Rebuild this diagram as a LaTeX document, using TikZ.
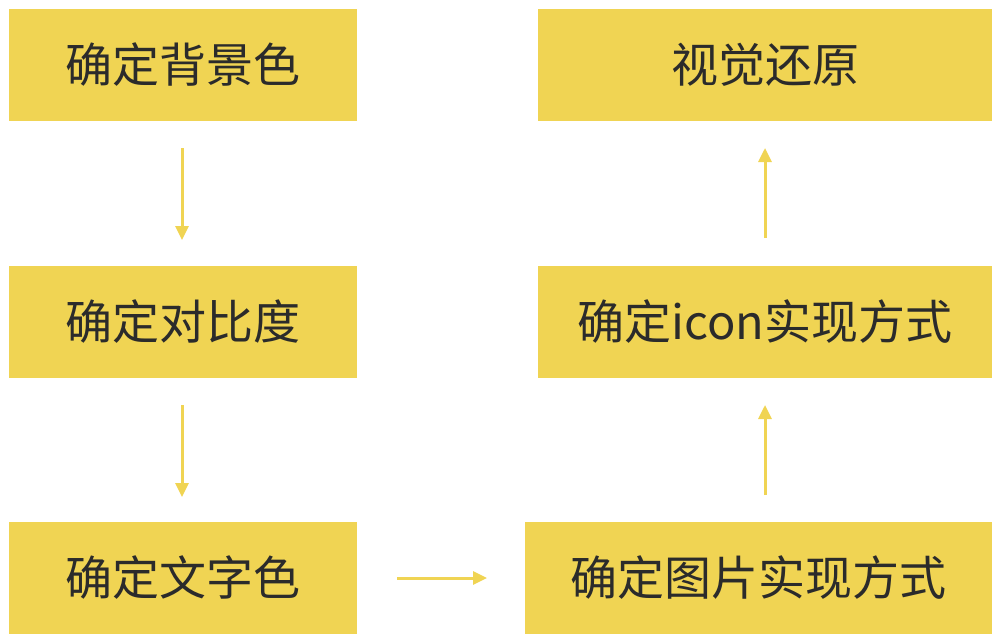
\documentclass[tikz,border=0pt]{standalone}
\usepackage{fontspec}
\setmainfont{Noto Sans CJK SC}
\usetikzlibrary{arrows.meta}
\definecolor{boxy}{HTML}{F0D453}
\definecolor{txt}{HTML}{2B2B2B}
\tikzset{
  box/.style={fill=boxy,inner sep=0pt,text=txt,font=\fontsize{47pt}{54pt}\selectfont},
  arr/.style={draw=boxy,line width=3pt,-{Triangle[length=14pt,width=13pt]}}
}
\begin{document}
\begin{tikzpicture}[x=1pt,y=-1pt]
\useasboundingbox (0,0) rectangle (1000,643);
\node[box,minimum width=348pt,minimum height=112pt] (a) at (183,65) {确定背景色};
\node[box,minimum width=348pt,minimum height=112pt] (b) at (183,322) {确定对比度};
\node[box,minimum width=348pt,minimum height=112pt] (c) at (183,578) {确定文字色};
\node[box,minimum width=467pt,minimum height=112pt] (d) at (758.5,578) {确定图片实现方式};
\node[box,minimum width=454pt,minimum height=112pt] (e) at (765,322) {确定icon实现方式};
\node[box,minimum width=454pt,minimum height=112pt] (f) at (765,65) {视觉还原};
\coordinate (a1) at (182,148); \coordinate (a2) at (182,240);
\coordinate (b1) at (182,405); \coordinate (b2) at (182,497);
\coordinate (c1) at (397,578); \coordinate (c2) at (487,578);
\coordinate (d1) at (765,495); \coordinate (d2) at (765,405);
\coordinate (e1) at (765,238); \coordinate (e2) at (765,148);
\draw[arr] (a1) -- (a2);
\draw[arr] (b1) -- (b2);
\draw[arr] (c1) -- (c2);
\draw[arr] (d1) -- (d2);
\draw[arr] (e1) -- (e2);
\end{tikzpicture}
\end{document}
